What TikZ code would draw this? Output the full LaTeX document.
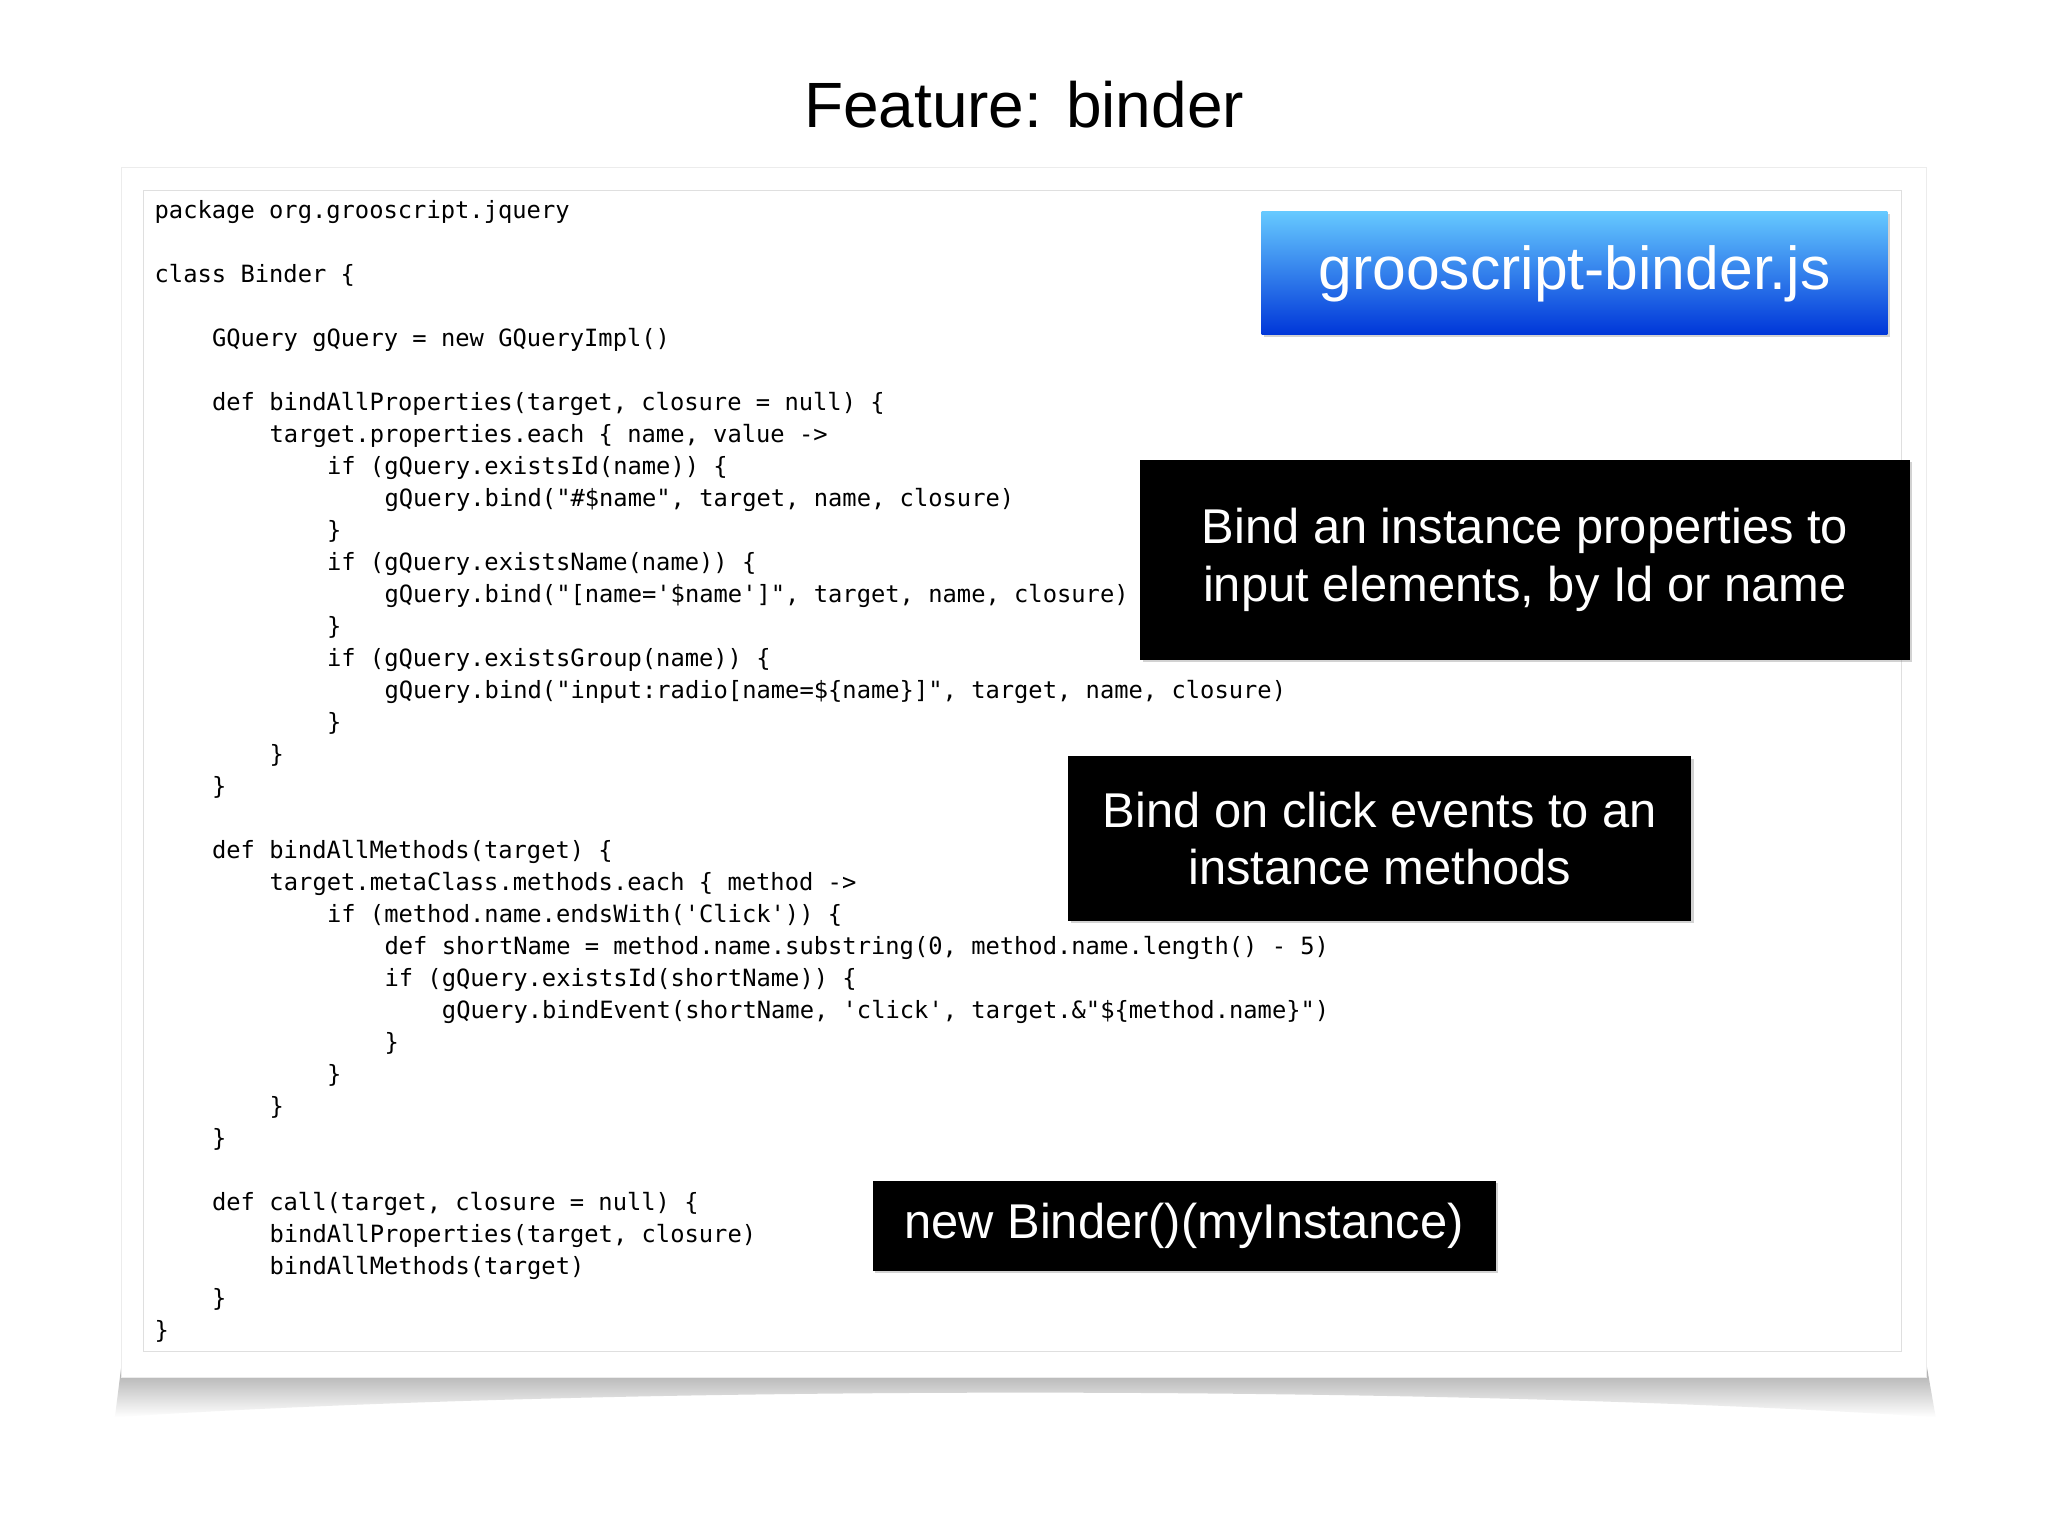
\documentclass[tikz,border=0pt]{standalone}
\usepackage{fontspec}
\setmainfont{Liberation Sans}
\setmonofont{DejaVu Sans Mono}
\usetikzlibrary{shadows}
\begin{document}
\begin{tikzpicture}[x=0.5pt,y=-0.5pt,
  code/.style={anchor=base west,inner sep=0pt,font=\ttfamily\fontsize{9.1}{11}\selectfont},
  blackbox/.style={fill=black,text=white,align=center,font=\fontsize{18.7}{22}\selectfont,inner sep=0pt},
  boxshadow/.style={drop shadow={shadow xshift=1pt,shadow yshift=-1pt,opacity=0.35}}]
\useasboundingbox (0,0) rectangle (1568,1176);
\fill[white] (0,0) rectangle (1568,1176);
% card shadow
\shade[top color=gray!70,bottom color=white] (93,1045) -- (1475,1045) -- (1482,1085) .. controls (1100,1060) and (470,1060) .. (88,1085) -- cycle;
\fill[white] (93,128) rectangle (1475,1055);
\draw[gray!15] (93,128) rectangle (1475,1055);
\draw[gray!25] (110,146) rectangle (1456,1035);
\node[font=\fontsize{24.5}{28}\selectfont] (title) at (784,80) {Feature: binder};
% code
\newcommand{\cl}[3]{\node[code] (c#1) at (118+11*#2,{167+24.5*#1}) {#3};}
\cl{0}{0}{package org.grooscript.jquery}
\cl{2}{0}{class Binder \{}
\cl{4}{4}{GQuery gQuery = new GQueryImpl()}
\cl{6}{4}{def bindAllProperties(target, closure = null) \{}
\cl{7}{8}{target.properties.each \{ name, value ->}
\cl{8}{12}{if (gQuery.existsId(name)) \{}
\cl{9}{16}{gQuery.bind("\#\$name", target, name, closure)}
\cl{10}{12}{\}}
\cl{11}{12}{if (gQuery.existsName(name)) \{}
\cl{12}{16}{gQuery.bind("[name='\$name']", target, name, closure)}
\cl{13}{12}{\}}
\cl{14}{12}{if (gQuery.existsGroup(name)) \{}
\cl{15}{16}{gQuery.bind("input:radio[name=\$\{name\}]", target, name, closure)}
\cl{16}{12}{\}}
\cl{17}{8}{\}}
\cl{18}{4}{\}}
\cl{20}{4}{def bindAllMethods(target) \{}
\cl{21}{8}{target.metaClass.methods.each \{ method ->}
\cl{22}{12}{if (method.name.endsWith('Click')) \{}
\cl{23}{16}{def shortName = method.name.substring(0, method.name.length() - 5)}
\cl{24}{16}{if (gQuery.existsId(shortName)) \{}
\cl{25}{20}{gQuery.bindEvent(shortName, 'click', target.\&"\$\{method.name\}")}
\cl{26}{16}{\}}
\cl{27}{12}{\}}
\cl{28}{8}{\}}
\cl{29}{4}{\}}
\cl{31}{4}{def call(target, closure = null) \{}
\cl{32}{8}{bindAllProperties(target, closure)}
\cl{33}{8}{bindAllMethods(target)}
\cl{34}{4}{\}}
\cl{35}{0}{\}}
% boxes
\shade[top color=blue!35!cyan!60!white,bottom color=blue!75!cyan!85!black,boxshadow] (966,162) rectangle (1445,256);
\node[text=white,font=\fontsize{23.2}{28}\selectfont] (blue) at (1205.5,210) {grooscript-binder.js};
\node[blackbox,boxshadow,minimum width=294.5pt,minimum height=76.5pt] (b1) at (1167.5,428.5) {Bind an instance properties to\\input elements, by Id or name};
\node[blackbox,boxshadow,minimum width=238.5pt,minimum height=63pt] (b2) at (1056.5,642) {Bind on click events to an\\instance methods};
\node[blackbox,boxshadow,minimum width=238.5pt,minimum height=34.5pt] (b3) at (906.5,938.5) {new Binder()(myInstance)};
\end{tikzpicture}
\end{document}
